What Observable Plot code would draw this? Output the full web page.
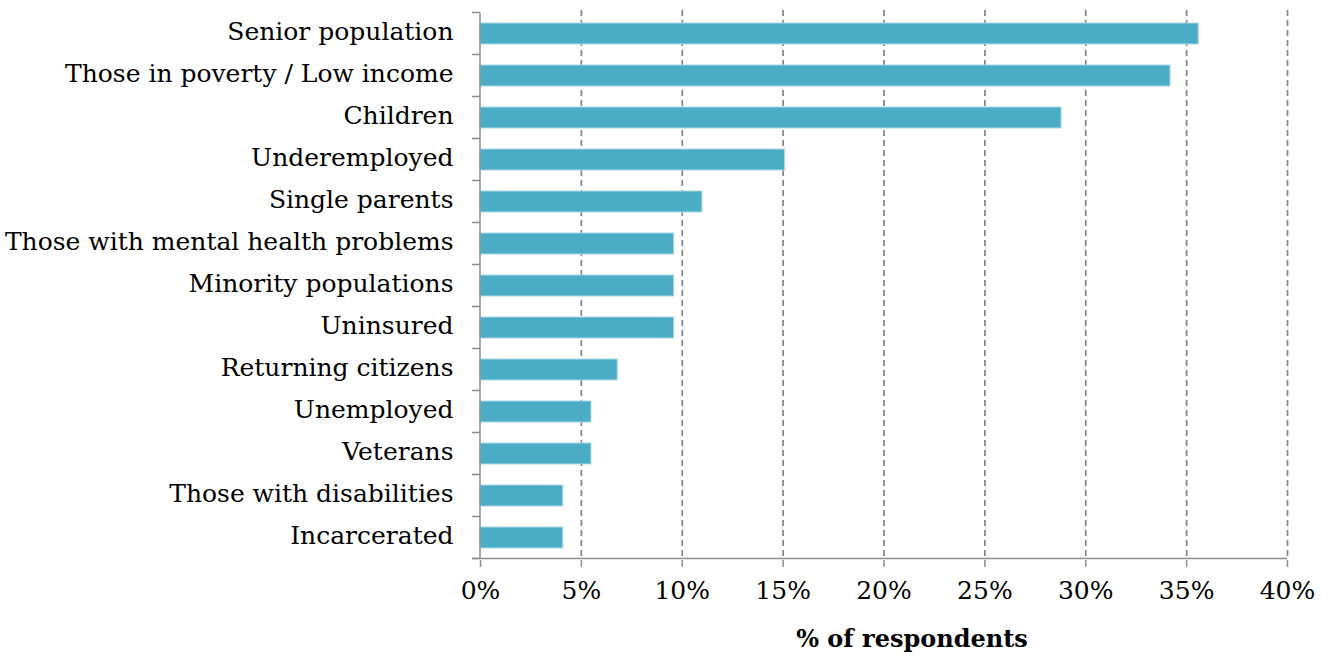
<!DOCTYPE html>
<html>
<head>
<meta charset="utf-8">
<script src="https://cdn.jsdelivr.net/npm/d3@7"></script>
<script src="https://cdn.jsdelivr.net/npm/@observablehq/plot@0.6"></script>
<style>
  html, body { margin: 0; padding: 0; background: #fff; }
</style>
</head>
<body>
<div id="chart"></div>
<script>
const categories = [
  "Senior population",
  "Those in poverty / Low income",
  "Children",
  "Underemployed",
  "Single parents",
  "Those with mental health problems",
  "Minority populations",
  "Uninsured",
  "Returning citizens",
  "Unemployed",
  "Veterans",
  "Those with disabilities",
  "Incarcerated"
];
const values = [35.6, 34.2, 28.8, 15.1, 11.0, 9.6, 9.6, 9.6, 6.8, 5.5, 5.5, 4.1, 4.1];
const xTicks = [0, 5, 10, 15, 20, 25, 30, 35, 40];
const xLabel = "% of respondents";

const data = categories.map((c, i) => ({category: c, value: values[i]}));

const axisColor = "#8c8c8c";

// axis lines: y-axis with tick marks at band boundaries (Excel style) and bottom x-axis line
function axisLines(index, scales, channels, dims) {
  const y = scales.y;
  const step = y.step();
  const x0 = scales.x(0);
  const x1 = scales.x(40);
  const g = d3.create("svg:g");
  const ys = categories.map(c => y(c) - (step - y.bandwidth()) / 2);
  ys.push(ys[ys.length - 1] + step);
  const yb = ys[ys.length - 1];
  g.append("line")
    .attr("x1", x0).attr("x2", x0)
    .attr("y1", ys[0]).attr("y2", yb)
    .attr("stroke", axisColor).attr("stroke-width", 1.5);
  g.append("line")
    .attr("x1", x0 - 8).attr("x2", x1)
    .attr("y1", yb).attr("y2", yb)
    .attr("stroke", axisColor).attr("stroke-width", 1.5);
  for (const yy of ys) {
    g.append("line")
      .attr("x1", x0 - 8).attr("x2", x0)
      .attr("y1", yy).attr("y2", yy)
      .attr("stroke", axisColor).attr("stroke-width", 1.5);
  }
  return g.node();
}

const chart = Plot.plot({
  width: 1332,
  height: 658,
  marginLeft: 480,
  marginRight: 45,
  marginTop: 10,
  marginBottom: 98,
  style: {fontFamily: "DejaVu Serif", fontSize: "25px", color: "#000", background: "#fff"},
  x: {domain: [0, 40], ticks: xTicks, tickFormat: d => d + "%"},
  y: {domain: categories, paddingInner: 0.5, paddingOuter: 0.25},
  marks: [
    Plot.ruleX(xTicks.filter(d => d > 0), {stroke: "#888", strokeWidth: 1.75, strokeDasharray: "6,4"}),
    Plot.barX(data, {x: "value", y: "category", fill: "#4bacc6", stroke: "#a8d8e5", strokeWidth: 1}),
    Plot.axisX({ticks: xTicks, tickSize: 7, tickPadding: 14, stroke: axisColor, strokeWidth: 1.5, label: null, tickFormat: d => d + "%", fill: "#000"}),
    Plot.axisY({tickSize: 0, tickPadding: 27, label: null, fill: "#000", dy: -2}),
    axisLines,
    Plot.text([xLabel], {frameAnchor: "bottom", dy: 86, dx: 28, fontWeight: "bold", fontSize: 24, fill: "#000"})
  ]
});
document.getElementById("chart").appendChild(chart);
</script>
</body>
</html>
